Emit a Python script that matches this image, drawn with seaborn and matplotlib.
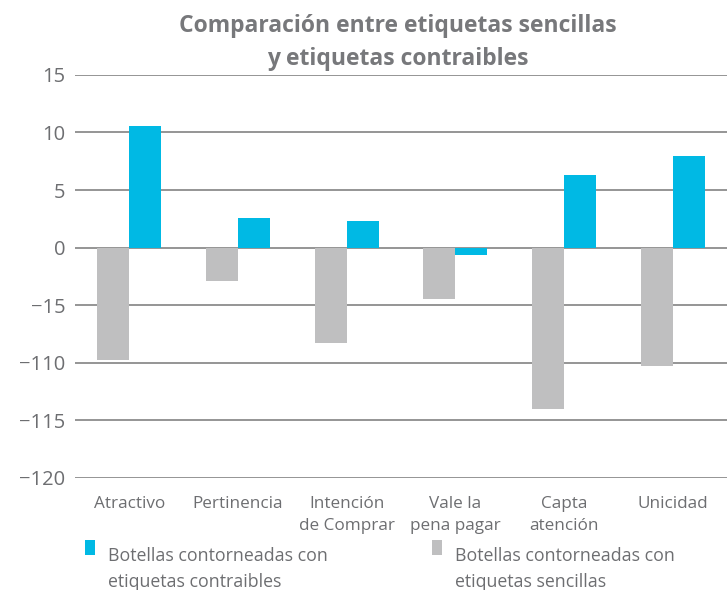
import matplotlib
matplotlib.use("Agg")
import matplotlib.pyplot as plt
import seaborn as sns
import pandas as pd

categories = ["Atractivo", "Pertinencia", "Intención\nde Comprar", "Vale la\npena pagar", "Capta\natención", "Unicidad"]
series_contraibles = [10.6, 2.6, 2.3, -0.6, 6.3, 8.0]
series_sencillas = [-9.8, -2.9, -8.3, -4.5, -14.0, -10.3]
name_contraibles = "Botellas contorneadas con\netiquetas contraibles"
name_sencillas = "Botellas contorneadas con\netiquetas sencillas"
yticks = [15, 10, 5, 0, -5, -10, -15, -20]
ytick_labels = ["15", "10", "5", "0", "\u221215", "\u2212110", "\u2212115", "\u2212120"]
title = "Comparación entre etiquetas sencillas\ny etiquetas contraibles"

blue = "#00b9e4"
gray = "#bfbfc0"
textc = "#6d6e71"

df = pd.DataFrame({
    "cat": categories * 2,
    "val": series_sencillas + series_contraibles,
    "serie": [name_sencillas] * 6 + [name_contraibles] * 6,
})

sns.set_theme(style="white")
plt.rcParams['font.family'] = ['Open Sans', 'DejaVu Sans']

fig = plt.figure(figsize=(7.27, 5.9), dpi=100)
ax = fig.add_axes([0.103, 0.19, 0.897, 0.683])

sns.barplot(data=df, x="cat", y="val", hue="serie", order=categories,
            hue_order=[name_sencillas, name_contraibles],
            palette={name_sencillas: gray, name_contraibles: blue},
            width=0.59, saturation=1, linewidth=0, ax=ax, zorder=3)

ax.set_ylim(-20, 15)
ax.set_xlim(-0.5, 5.5)
ax.set_yticks(yticks)
ax.set_yticklabels(ytick_labels, fontsize=14.5, color=textc)
ax.tick_params(axis='x', labelsize=12.3, colors=textc, length=0, pad=13)
for t in ax.get_xticklabels():
    t.set_linespacing(1.5)
ax.tick_params(axis='y', length=0, pad=7)
ax.set_xlabel("")
ax.set_ylabel("")
for s in ax.spines.values():
    s.set_visible(False)
ax.yaxis.grid(True, color="#8c8c8c", linewidth=1.3, zorder=1)
ax.set_axisbelow(True)

ax.set_title(title, fontsize=16.5, fontweight="bold", color="#77787b", pad=7, x=0.495, linespacing=1.5)

handles, labels = ax.get_legend_handles_labels()
ax.legend_.remove()
lmap = dict(zip(labels, handles))
for name, xpos in [(name_contraibles, 0.117), (name_sencillas, 0.594)]:
    leg = fig.legend([lmap[name]], [name],
                     loc="upper left", bbox_to_anchor=(xpos, 0.073), frameon=False,
                     fontsize=12.8, labelcolor=textc, handlelength=0.55, handleheight=0.95,
                     handletextpad=0.75, borderaxespad=0, borderpad=0)
    for t in leg.get_texts():
        t.set_linespacing(1.58)
    for p in leg.get_patches():
        p.set_y(p.get_y() + 16)

fig.savefig("out.png", dpi=100)
